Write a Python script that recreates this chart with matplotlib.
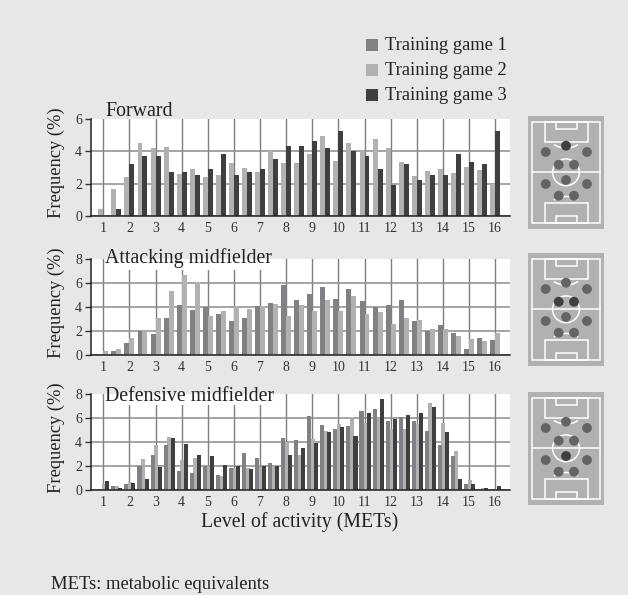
import matplotlib
matplotlib.use("Agg")
import matplotlib.pyplot as plt
from matplotlib.patches import Rectangle, Circle, Arc

plt.rcParams["font.family"] = ["Liberation Serif", "DejaVu Serif"]

W, H = 628, 595
BG = "#E6E7E8"
C1 = "#808184"
C2 = "#AFB1B3"
C3 = "#3F3F40"

levels = [1 + i * 0.5 for i in range(31)]
tick_levels = list(range(1, 17))

forward_g2 = [0.43, 1.68, 2.42, 4.53, 4.22, 4.28, 2.6, 2.92, 2.42, 2.55, 3.3, 2.98, 2.73, 4.0, 3.3, 3.3,
              3.85, 4.97, 3.42, 4.53, 4.0, 4.78, 4.22, 3.35, 2.48, 2.8, 2.92, 2.67, 3.04, 2.86, 1.99]
forward_g3 = [0, 0.43, 3.23, 3.73, 3.73, 2.73, 2.73, 2.55, 2.92, 3.85, 2.55, 2.73, 2.92, 3.55, 4.35, 4.35,
              4.66, 4.22, 5.28, 4.04, 3.73, 2.92, 1.93, 3.23, 2.24, 2.55, 2.55, 3.85, 3.35, 3.23, 5.28]

attacking_g1 = [0, 0.33, 1.0, 2.0, 1.75, 3.08, 4.17, 3.75, 4.0, 3.42, 2.83, 3.08, 4.08, 4.33, 5.83, 4.58,
                5.08, 5.67, 4.67, 5.5, 4.5, 4.0, 4.17, 4.58, 2.83, 2.0, 2.5, 1.83, 0.5, 1.42, 1.25]
attacking_g2 = [0.33, 0.5, 1.42, 2.0, 3.08, 5.33, 6.67, 6.08, 3.25, 3.67, 4.08, 3.83, 4.08, 4.25, 3.25, 4.17,
                3.67, 4.58, 3.67, 4.92, 3.42, 3.58, 2.58, 3.08, 2.92, 2.17, 2.17, 1.58, 1.33, 1.17, 1.83]

defensive_g1 = [0, 0.36, 0.53, 2.0, 2.95, 3.77, 1.6, 1.45, 2.0, 1.27, 1.85, 3.1, 2.7, 2.27, 4.35, 4.18,
                6.18, 5.43, 5.1, 5.35, 6.6, 6.76, 5.76, 6.1, 5.76, 4.93, 3.77, 2.85, 0.53, 0.1, 0.03]
defensive_g2 = [0.53, 0.36, 0.7, 2.6, 3.77, 4.43, 2.5, 2.7, 2.0, 1.2, 1.85, 1.85, 1.95, 1.95, 4.0, 2.93,
                4.27, 4.93, 5.5, 6.1, 5.6, 6.0, 5.1, 5.1, 5.5, 7.26, 5.6, 3.27, 0.86, 0.2, 0.1]
defensive_g3 = [0.78, 0.2, 0.6, 0.95, 1.95, 4.35, 3.85, 2.95, 2.85, 2.1, 1.97, 1.77, 1.97, 1.97, 2.93, 3.52,
                3.93, 4.85, 5.26, 4.5, 6.43, 7.6, 5.93, 6.26, 6.43, 6.93, 4.85, 0.95, 0.53, 0.2, 0.36]

legend_labels = ["Training game 1", "Training game 2", "Training game 3"]
legend_colors = [C1, C2, C3]

# player spots on the pitch picture, in pixels from its top left corner
player_x = [38, 17.7, 59, 30.7, 46, 38, 17.7, 59, 30.7, 46]
player_y = [29.7, 36, 36, 48.7, 48.7, 64, 68, 68, 79.7, 79.7]

fig = plt.figure(figsize=(W / 100, H / 100), dpi=100, facecolor=BG)


def px_axes(left, top, right, bottom):
    return fig.add_axes([left / W, 1 - bottom / H, (right - left) / W, (bottom - top) / H])


def bar_panel(top, bottom, ymax, yticks, title, title_y, series, width, cover):
    ax = px_axes(90.5, top, 509.5, bottom)
    ax.set_facecolor("white")
    ax.set_xlim(0.51, 16.55)
    ax.set_ylim(0, ymax)
    ax.set_axisbelow(True)
    ax.set_xticks(tick_levels)
    ax.set_yticks(yticks)
    ax.tick_params(axis="x", length=0, labelsize=10, pad=4.5, colors="#333333")
    ax.tick_params(axis="y", length=4, width=1, labelsize=10, pad=2, color="#333333", labelcolor="#333333")
    ax.grid(axis="x", color="#7d7e81", linewidth=1)
    ax.grid(axis="y", color="#8a8b8e", linewidth=1.1)
    ax.get_ygridlines()[-1].set_visible(False)
    for s in ["top", "right"]:
        ax.spines[s].set_visible(False)
    for s in ["left", "bottom"]:
        ax.spines[s].set_color("#222222")
        ax.spines[s].set_linewidth(1.1)
    for vals, color, offset, z in series:
        ax.bar([x + offset for x in levels], vals, width=width, color=color, linewidth=0, zorder=z)
    # white band that hides the grid behind the panel title
    if cover:
        ax.add_patch(Rectangle((1.1, cover), 6.4, ymax - cover, facecolor="white", edgecolor="none", zorder=1.5))
    ax.set_ylabel("Frequency (%)", fontsize=13.3, color="#222222", labelpad=0)
    ax.yaxis.set_label_coords((65 - 90.5) / 419, 0.5 + 4.5 / 96)
    fig.text(105 / W, 1 - title_y / H, title, fontsize=14.3, color="#222222", va="baseline", ha="left")
    return ax


def pitch(top, highlight):
    ax = px_axes(528, top, 604, top + 113)
    ax.set_xlim(0, 76)
    ax.set_ylim(113, 0)
    ax.axis("off")
    ax.add_patch(Rectangle((0, 0), 76, 113, facecolor="#AFB1B3", edgecolor="none"))
    line = dict(fill=False, edgecolor="white", linewidth=1.1)
    ax.add_patch(Rectangle((4.3, 5.6), 68, 101.6, **line))
    ax.plot([4.3, 72.3], [56.3, 56.3], color="white", lw=1.1)
    ax.add_patch(Circle((38, 56.3), 13.4, **line))
    for y0, h1, h2 in [(5.6, 20.4, 7.6), (107.2, -20.6, -7.6)]:
        ax.add_patch(Rectangle((16.6, y0), 43.7, h1, **line))
        ax.add_patch(Rectangle((27.7, y0), 21.6, h2, **line))
    ax.add_patch(Arc((38, 20), 34, 24, theta1=35, theta2=145, edgecolor="white", linewidth=1.1))
    ax.add_patch(Arc((38, 92.5), 34, 24, theta1=215, theta2=325, edgecolor="white", linewidth=1.1))
    colors = [C3 if i in highlight else "#636466" for i in range(len(player_x))]
    ax.scatter(player_x, player_y, s=50, c=colors, linewidths=0, zorder=3)


bar_panel(119, 216, 6, [0, 2, 4, 6], "Forward", 116, [
    (forward_g2, C2, -0.095, 2),
    (forward_g3, C3, 0.095, 2),
], 0.19, None)
bar_panel(259, 355, 8, [0, 2, 4, 6, 8], "Attacking midfielder", 262.5, [
    (attacking_g1, C1, -0.095, 2),
    (attacking_g2, C2, 0.095, 2),
], 0.19, 7.08)
bar_panel(394, 490, 8, [0, 2, 4, 6, 8], "Defensive midfielder", 401, [
    (defensive_g2, C2, 0.02, 2),
    (defensive_g1, C1, -0.115, 2.1),
    (defensive_g3, C3, 0.155, 2.2),
], 0.155, 7.08)
fig.text(300 / W, 1 - 527 / H, "Level of activity (METs)", fontsize=14.2, color="#222222", ha="center", va="baseline")
fig.text(51 / W, 1 - 589 / H, "METs: metabolic equivalents", fontsize=13.4, color="#222222", ha="left", va="baseline")

pitch(116, [0])
pitch(253, [3, 4])
pitch(392, [5])

# legend is placed by hand to the right of the first chart title
for lab, col, ytop in zip(legend_labels, legend_colors, [39, 64, 89]):
    fig.patches.append(Rectangle((366 / W, 1 - (ytop + 12) / H), 12 / W, 12 / H, transform=fig.transFigure,
                                 facecolor=col, edgecolor="none"))
    fig.text(385 / W, 1 - (ytop + 11) / H, lab, fontsize=13.3, color="#222222", ha="left", va="baseline")

fig.savefig("out.png", dpi=100, facecolor=BG)
